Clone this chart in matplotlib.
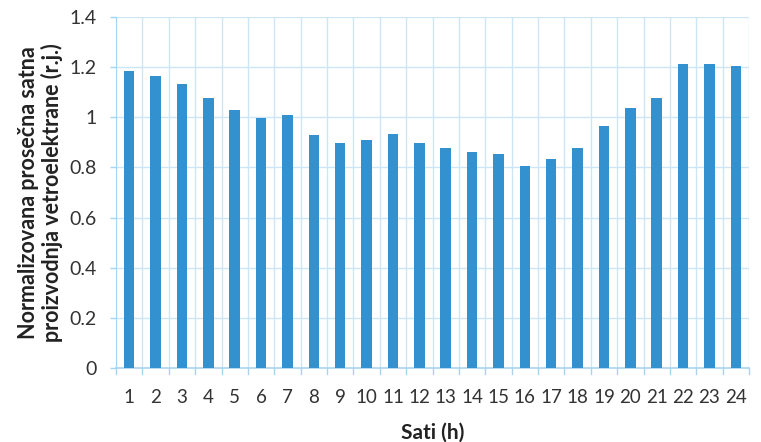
import matplotlib.pyplot as plt
import numpy as np

hours = [str(h) for h in range(1, 25)]
production = [1.185, 1.166, 1.133, 1.077, 1.028, 0.998, 1.010, 0.929,
              0.899, 0.908, 0.934, 0.899, 0.879, 0.862, 0.854, 0.805,
              0.832, 0.879, 0.964, 1.036, 1.077, 1.214, 1.214, 1.205]
yticks = [0, 0.2, 0.4, 0.6, 0.8, 1.0, 1.2, 1.4]
ytick_labels = ['0', '0.2', '0.4', '0.6', '0.8', '1', '1.2', '1.4']

plt.rcParams['font.family'] = ['Lato', 'DejaVu Sans']

fig = plt.figure(figsize=(7.61, 4.42), dpi=100)
ax = fig.add_axes([116 / 761, 1 - 368 / 442, (749 - 116) / 761, (368 - 17) / 442])

x = np.arange(len(hours))
ax.bar(x, production, width=0.4, color='#3391d0', zorder=3)

grid_color = '#cde6f7'
axis_color = '#a8d4f0'
ax.set_xlim(-0.5, len(hours) - 0.5)
ax.set_ylim(0, 1.4)
ax.set_yticks(yticks)
ax.set_yticklabels(ytick_labels)
ax.set_xticks(x)
ax.set_xticklabels(hours)
ax.tick_params(axis='x', length=0, labelsize=13.5, colors='#333333', pad=15)
ax.tick_params(axis='y', length=4, width=1, color=axis_color, labelsize=14,
               labelcolor='#333333', pad=10)

# gridlines: horizontal at y ticks, vertical at category boundaries
for y in yticks[1:]:
    ax.axhline(y, color=grid_color, lw=1, zorder=1)
for b in np.arange(-0.5, len(hours), 1.0):
    ax.axvline(b, color=grid_color, lw=1, zorder=1)
    ax.plot([b, b], [0, -0.025], color=axis_color, lw=1, clip_on=False, zorder=2)

for side in ['top', 'right']:
    ax.spines[side].set_visible(False)
ax.spines['left'].set_color(axis_color)
ax.spines['bottom'].set_color(axis_color)
ax.spines['bottom'].set_linewidth(1.2)

ax.set_xlabel('Sati (h)', fontsize=15, fontweight='bold', color='#222222')
ax.xaxis.set_label_coords(0.5, -0.155)
ax.set_ylabel('Normalizovana prosečna satna\nproizvodnja vetroelektrane (r.j.)',
              fontsize=15.5, fontweight='bold', color='#222222', linespacing=1.1)
ax.yaxis.set_label_coords(-0.084, 0.5)

fig.savefig('out.png', dpi=100)
